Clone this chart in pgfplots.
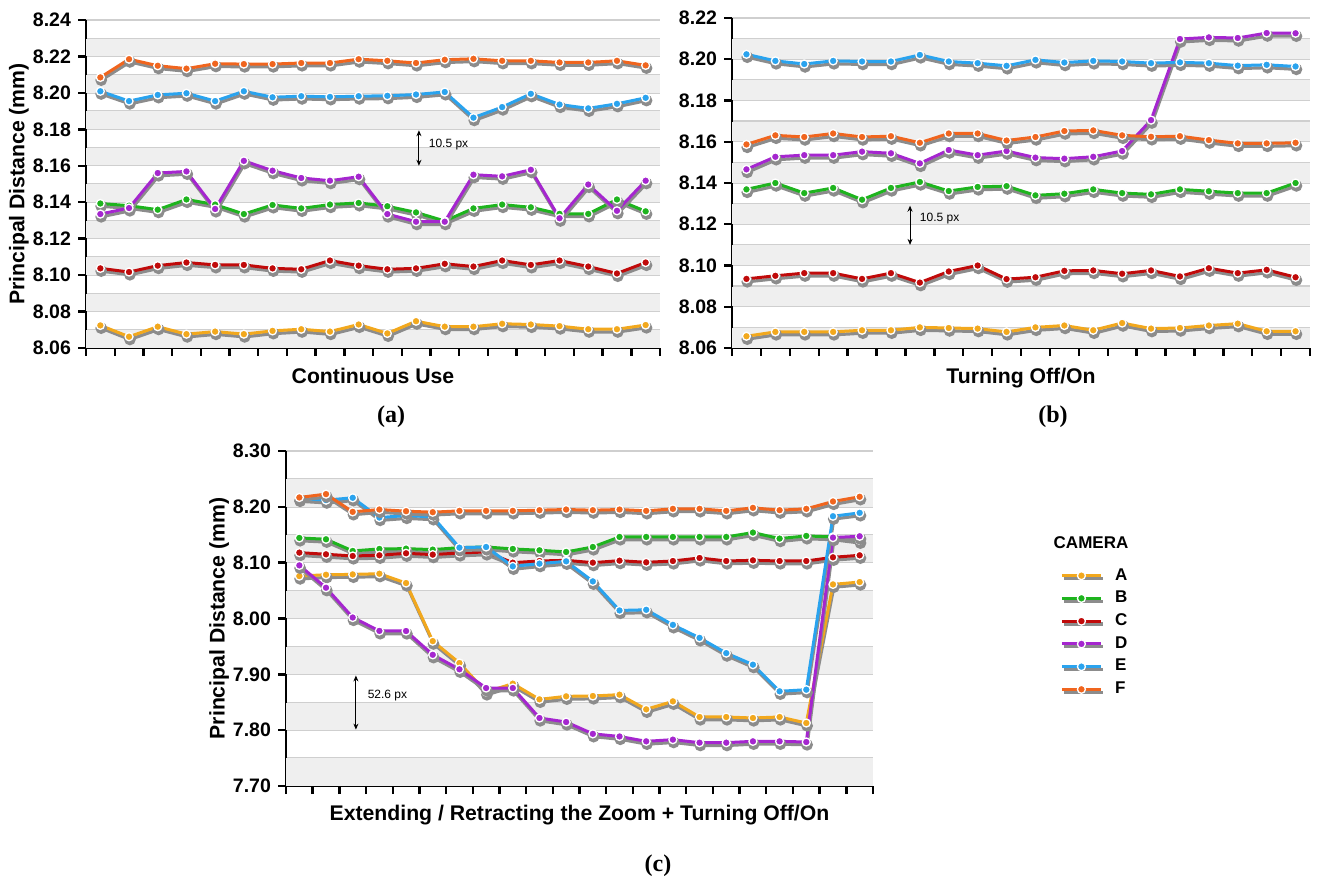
\documentclass[border=0pt]{standalone}
\usepackage{fontspec}
\setmainfont{Liberation Sans}
\newfontfamily\capfont{Liberation Serif}
\usepackage{pgfplots}
\usepackage{pgfplotstable}
\pgfplotsset{compat=1.18}
\usetikzlibrary{arrows.meta}

\definecolor{cA}{HTML}{F2A81D}
\definecolor{cB}{HTML}{1EB41E}
\definecolor{cC}{HTML}{C00A0A}
\definecolor{cD}{HTML}{A526CF}
\definecolor{cE}{HTML}{2AA3EE}
\definecolor{cF}{HTML}{F0651E}
\definecolor{band}{HTML}{EFEFEF}
\definecolor{gridc}{HTML}{CFCFCF}

\pgfplotstableread{
x A B C D E F
1 8.0724 8.1393 8.1037 8.1335 8.2009 8.2085
2 8.0662 8.1381 8.1017 8.1368 8.1955 8.2185
3 8.0717 8.1359 8.1052 8.1560 8.1989 8.2149
4 8.0676 8.1415 8.1069 8.1569 8.1998 8.2133
5 8.0690 8.1387 8.1056 8.1363 8.1955 8.2160
6 8.0676 8.1335 8.1056 8.1627 8.2009 8.2158
7 8.0694 8.1385 8.1037 8.1573 8.1976 8.2158
8 8.0703 8.1366 8.1032 8.1533 8.1982 8.2164
9 8.0690 8.1387 8.1080 8.1518 8.1978 8.2164
10 8.0729 8.1396 8.1052 8.1540 8.1982 8.2185
11 8.0680 8.1378 8.1032 8.1335 8.1984 8.2176
12 8.0747 8.1344 8.1037 8.1293 8.1991 8.2164
13 8.0717 8.1297 8.1062 8.1293 8.2005 8.2182
14 8.0717 8.1366 8.1047 8.1551 8.1864 8.2187
15 8.0733 8.1387 8.1080 8.1542 8.1922 8.2176
16 8.0729 8.1372 8.1056 8.1578 8.1995 8.2176
17 8.0720 8.1336 8.1080 8.1312 8.1936 8.2167
18 8.0703 8.1336 8.1047 8.1497 8.1915 8.2167
19 8.0703 8.1415 8.1009 8.1353 8.1940 8.2176
20 8.0726 8.1350 8.1069 8.1518 8.1973 8.2151
}\dataA

\pgfplotstableread{
x A B C D E F
1 8.0657 8.1369 8.0935 8.1466 8.2024 8.1587
2 8.0678 8.1400 8.0950 8.1527 8.1992 8.1631
3 8.0678 8.1351 8.0963 8.1535 8.1977 8.1623
4 8.0678 8.1376 8.0963 8.1535 8.1992 8.1640
5 8.0686 8.1319 8.0935 8.1552 8.1989 8.1623
6 8.0686 8.1376 8.0963 8.1544 8.1989 8.1627
7 8.0700 8.1405 8.0917 8.1495 8.2021 8.1595
8 8.0697 8.1361 8.0971 8.1560 8.1989 8.1640
9 8.0694 8.1381 8.1000 8.1535 8.1981 8.1640
10 8.0678 8.1385 8.0934 8.1555 8.1968 8.1606
11 8.0700 8.1340 8.0943 8.1523 8.1997 8.1623
12 8.0709 8.1348 8.0974 8.1518 8.1984 8.1652
13 8.0686 8.1369 8.0976 8.1527 8.1992 8.1655
14 8.0721 8.1351 8.0960 8.1555 8.1989 8.1631
15 8.0694 8.1345 8.0976 8.1705 8.1981 8.1624
16 8.0697 8.1369 8.0947 8.2098 8.1985 8.1627
17 8.0709 8.1360 8.0987 8.2106 8.1981 8.1608
18 8.0718 8.1351 8.0963 8.2103 8.1969 8.1592
19 8.0681 8.1351 8.0979 8.2127 8.1973 8.1592
20 8.0681 8.1400 8.0943 8.2126 8.1965 8.1595
}\dataB

\pgfplotstableread{
x A B C D E F
1 8.0760 8.1443 8.1180 8.0952 8.2150 8.2168
2 8.0784 8.1419 8.1150 8.0551 8.2120 8.2228
3 8.0790 8.1210 8.1120 8.0018 8.2162 8.1910
4 8.0802 8.1246 8.1132 7.9778 8.1808 8.1952
5 8.0635 8.1251 8.1168 7.9776 8.1844 8.1922
6 7.9595 8.1234 8.1144 7.9350 8.1820 8.1904
7 7.9203 8.1269 8.1174 7.9090 8.1269 8.1928
8 7.8684 8.1281 8.1192 7.8755 8.1281 8.1928
9 7.8833 8.1246 8.1000 7.8755 8.0934 8.1928
10 7.8552 8.1222 8.1030 7.8218 8.0982 8.1940
11 7.8606 8.1192 8.1042 7.8146 8.1024 8.1952
12 7.8612 8.1281 8.1000 7.7934 8.0665 8.1940
13 7.8636 8.1461 8.1036 7.7887 8.0144 8.1952
14 7.8373 8.1461 8.1006 7.7800 8.0156 8.1928
15 7.8516 8.1461 8.1030 7.7830 7.9886 8.1964
16 7.8236 8.1461 8.1084 7.7776 7.9653 8.1964
17 7.8236 8.1461 8.1030 7.7776 7.9380 8.1928
18 7.8218 8.1539 8.1042 7.7800 7.9173 8.1982
19 7.8236 8.1431 8.1030 7.7800 7.8696 8.1940
20 7.8128 8.1479 8.1030 7.7788 7.8725 8.1964
21 8.0611 8.1461 8.1096 8.1449 8.1832 8.2096
22 8.0653 8.1401 8.1132 8.1473 8.1892 8.2180
}\dataC

\pgfplotsset{
  shadowline/.style={color=black!45, line width=1.6pt, mark=*, mark size=2.1pt,
    mark options={draw=none, fill=black!45}, forget plot},
  ser/.style={color=#1, line width=1.5pt, mark=*, mark size=2.0pt,
    mark options={fill=#1, draw=white, line width=0.65pt}},
  panel/.style={
    scale only axis,
    axis x line*=bottom, axis y line*=left,
    axis line style={line width=1.4pt},
    every tick/.style={black, line width=1.2pt},
    major tick length=4pt, minor tick length=0pt,
    tick align=outside,
    xticklabels={},
    ymajorgrids, yminorgrids,
    major grid style={draw=gridc, line width=0.7pt},
    minor grid style={draw=gridc, line width=0.7pt},
    tick label style={font=\bfseries\fontsize{9.75}{10}\selectfont},
    yticklabel style={/pgf/number format/.cd, fixed, fixed zerofill, precision=2, assume math mode=true},
    label style={font=\bfseries\fontsize{10.6}{11}\selectfont},
    xlabel style={at={(axis description cs:0.5,0)}, anchor=base, yshift=-18pt},
    clip=false,
  },
}
% #1 table, #2 column, #3 colour, #4 x offset, #5 y offset (shadow)
\newcommand{\series}[5]{%
  \addplot[shadowline] table[x expr=\thisrow{x}+#4, y expr=\thisrow{#2}-#5]{#1};
  \addplot[ser=#3] table[x=x,y=#2]{#1};
}
\newcommand{\band}[3]{\addplot[draw=none, fill=band, mark=none, forget plot] coordinates {(0.5,#1) (#3,#1) (#3,#2) (0.5,#2)};}

\begin{document}
\begin{tikzpicture}
\useasboundingbox (0,0) rectangle (658.5pt,439.5pt);

% ---------------- (a)
\begin{axis}[panel, at={(43pt,265.5pt)}, anchor=south west,
  width=287pt, height=164pt,
  xmin=0.5, xmax=20.5, ymin=8.06, ymax=8.24,
  xtick={0.5,1.5,...,20.5},
  ytick={8.06,8.08,8.10,8.12,8.14,8.16,8.18,8.20,8.22,8.24},
  minor ytick={8.07,8.09,8.11,8.13,8.15,8.17,8.19,8.21,8.23},
  xlabel={Continuous Use}, ylabel={Principal Distance (mm)},
  ylabel style={at={(axis description cs:-0.1167,0.5)}, anchor=center},
]
\band{8.0602}{8.0698}{20.5}\band{8.0802}{8.0898}{20.5}\band{8.1002}{8.1098}{20.5}
\band{8.1202}{8.1298}{20.5}\band{8.1402}{8.1498}{20.5}\band{8.1602}{8.1698}{20.5}
\band{8.1802}{8.1898}{20.5}\band{8.2002}{8.2098}{20.5}\band{8.2202}{8.2298}{20.5}
\series{\dataA}{A}{cA}{0.03}{0.0015}
\series{\dataA}{B}{cB}{0.03}{0.0015}
\series{\dataA}{C}{cC}{0.03}{0.0015}
\series{\dataA}{D}{cD}{0.03}{0.0015}
\series{\dataA}{E}{cE}{0.03}{0.0015}
\series{\dataA}{F}{cF}{0.03}{0.0015}
\draw[{Stealth[length=3pt,width=2.5pt]}-{Stealth[length=3pt,width=2.5pt]}, line width=0.5pt] (axis cs:12.1,8.1795) -- (axis cs:12.1,8.1600);
\node[anchor=west, font=\fontsize{6}{7}\selectfont] at (axis cs:12.2,8.1715) {10.5 px};
\end{axis}

% ---------------- (b)
\begin{axis}[panel, at={(366pt,265.5pt)}, anchor=south west,
  width=289pt, height=165pt,
  xmin=0.5, xmax=20.5, ymin=8.06, ymax=8.22,
  xtick={0.5,1.5,...,20.5},
  ytick={8.06,8.08,8.10,8.12,8.14,8.16,8.18,8.20,8.22},
  minor ytick={8.07,8.09,8.11,8.13,8.15,8.17,8.19,8.21},
  xlabel={Turning Off/On},
]
\band{8.0602}{8.0698}{20.5}\band{8.0802}{8.0898}{20.5}\band{8.1002}{8.1098}{20.5}
\band{8.1202}{8.1298}{20.5}\band{8.1402}{8.1498}{20.5}\band{8.1602}{8.1698}{20.5}
\band{8.1802}{8.1898}{20.5}\band{8.2002}{8.2098}{20.5}
\series{\dataB}{A}{cA}{0.03}{0.0014}
\series{\dataB}{B}{cB}{0.03}{0.0014}
\series{\dataB}{C}{cC}{0.03}{0.0014}
\series{\dataB}{D}{cD}{0.03}{0.0014}
\series{\dataB}{E}{cE}{0.03}{0.0014}
\series{\dataB}{F}{cF}{0.03}{0.0014}
\draw[{Stealth[length=3pt,width=2.5pt]}-{Stealth[length=3pt,width=2.5pt]}, line width=0.5pt] (axis cs:6.66,8.1290) -- (axis cs:6.66,8.1100);
\node[anchor=west, font=\fontsize{6}{7}\selectfont] at (axis cs:6.76,8.1227) {10.5 px};
\end{axis}

% ---------------- (c)
\begin{axis}[panel, at={(143pt,46.5pt)}, anchor=south west,
  width=293.5pt, height=167.5pt,
  xmin=0.5, xmax=22.5, ymin=7.70, ymax=8.30,
  xtick={0.5,1.5,...,22.5},
  ytick={7.70,7.80,7.90,8.00,8.10,8.20,8.30},
  minor ytick={7.75,7.85,7.95,8.05,8.15,8.25},
  xlabel={Extending / Retracting the Zoom + Turning Off/On},
  xlabel style={yshift=1pt},
  ylabel={Principal Distance (mm)},
  ylabel style={at={(axis description cs:-0.114,0.5)}, anchor=center},
  legend style={at={(axis description cs:1.3186,0.663)}, anchor=north west,
    draw=none, fill=none, font=\bfseries\fontsize{8.5}{9}\selectfont,
    row sep=0pt, inner sep=0pt,
    /tikz/every odd column/.append style={column sep=3.5pt}},
  legend cell align=left,
  legend image code/.code={
    \draw[black!45, line width=1.6pt] (0.8pt,-1.4pt) -- (20.3pt,-1.4pt);
    \draw[mark repeat=2, mark phase=2, #1] plot coordinates {(0pt,0pt) (9.75pt,0pt) (19.5pt,0pt)};
  },
]
\band{7.7005}{7.7495}{22.5}\band{7.8005}{7.8495}{22.5}\band{7.9005}{7.9495}{22.5}
\band{8.0005}{8.0495}{22.5}\band{8.1005}{8.1495}{22.5}\band{8.2005}{8.2495}{22.5}
\series{\dataC}{A}{cA}{0.03}{0.005}\addlegendentry{A}
\series{\dataC}{B}{cB}{0.03}{0.005}\addlegendentry{B}
\series{\dataC}{C}{cC}{0.03}{0.005}\addlegendentry{C}
\series{\dataC}{D}{cD}{0.03}{0.005}\addlegendentry{D}
\series{\dataC}{E}{cE}{0.03}{0.005}\addlegendentry{E}
\series{\dataC}{F}{cF}{0.03}{0.005}\addlegendentry{F}
\draw[{Stealth[length=3pt,width=2.5pt]}-{Stealth[length=3pt,width=2.5pt]}, line width=0.5pt] (axis cs:3.12,7.898) -- (axis cs:3.12,7.801);
\node[anchor=west, font=\fontsize{6}{7}\selectfont] at (axis cs:3.3,7.862) {52.6 px};
\end{axis}

\node[font=\bfseries\fontsize{8.5}{9}\selectfont] at (545.5pt,168pt) {CAMERA};
\node[font=\capfont\bfseries\fontsize{12}{13}\selectfont] at (195.5pt,231pt) {(a)};
\node[font=\capfont\bfseries\fontsize{12}{13}\selectfont] at (526.5pt,231pt) {(b)};
\node[font=\capfont\bfseries\fontsize{12}{13}\selectfont] at (329pt,6.5pt) {(c)};
\end{tikzpicture}
\end{document}
